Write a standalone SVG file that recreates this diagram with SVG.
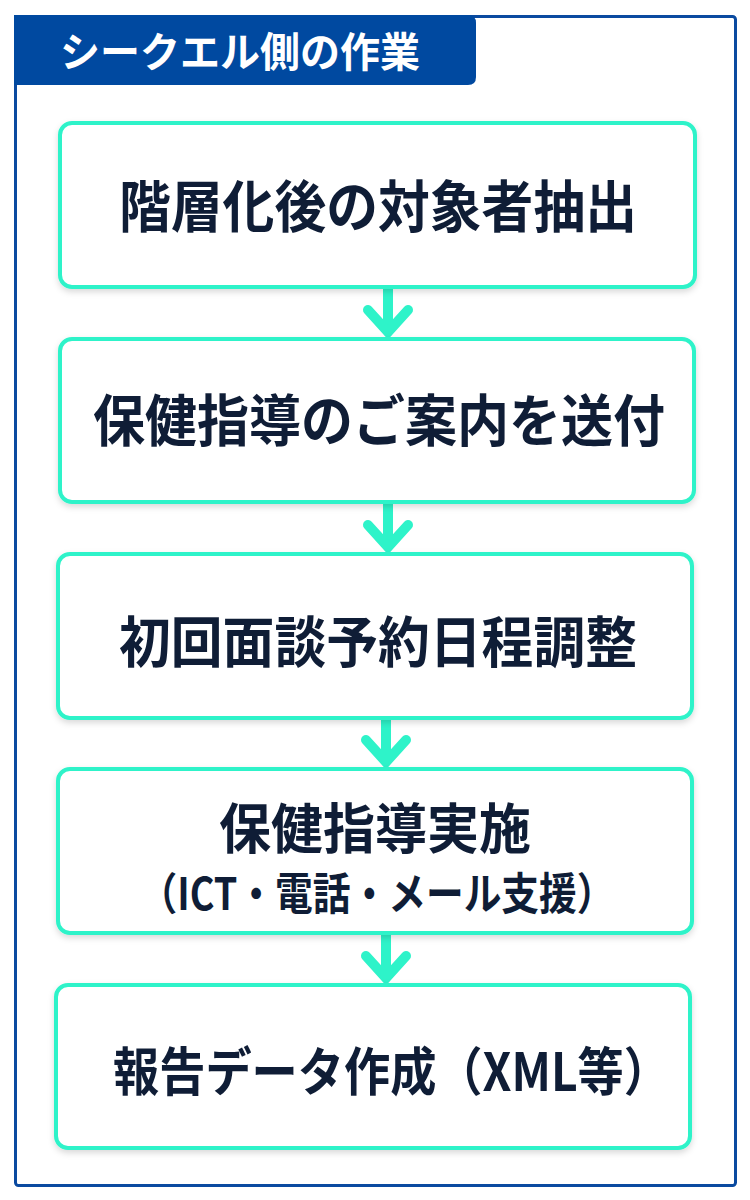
<svg xmlns="http://www.w3.org/2000/svg" width="750" height="1200" viewBox="0 0 750 1200">
<defs>
<style>
.box{fill:#ffffff;stroke:#2ef3c9;stroke-width:4;filter:url(#sh)}
.t{font-family:"Noto Sans CJK JP","Noto Sans CJK SC",sans-serif;font-weight:700;fill:#0f1d36}
.tab{font-family:"Noto Sans CJK JP","Noto Sans CJK SC",sans-serif;font-weight:700;fill:#ffffff}
.arr{fill:none;stroke:#2ef3c9;stroke-width:10;stroke-linecap:round}
</style>
<filter id="sh" x="-5%" y="-10%" width="110%" height="125%">
<feDropShadow dx="0" dy="3" stdDeviation="3" flood-color="#000" flood-opacity="0.15"/>
</filter>
</defs>
<rect x="0" y="0" width="750" height="1200" fill="#ffffff"/>
<g id="frame">
<rect x="15.5" y="16.5" width="720" height="1169" rx="3" fill="#ffffff" stroke="#0a4aa0" stroke-width="3"/>
<path d="M14 15 H468 Q476 15 476 23 V77 Q476 85 468 85 H14 Z" fill="#0049a0"/>
<text class="tab" x="60" y="67" font-size="41" textLength="360" lengthAdjust="spacingAndGlyphs">シークエル側の作業</text>
</g>
<g id="connectors">
<path class="arr" d="M388 289 V331"/><path class="arr" d="M368 310 L388 332 L408 310" stroke-linejoin="miter"/>
<path class="arr" d="M388 504 V546"/><path class="arr" d="M368 525 L388 547 L408 525" stroke-linejoin="miter"/>
<path class="arr" d="M386 720 V761"/><path class="arr" d="M366 740 L386 762 L406 740" stroke-linejoin="miter"/>
<path class="arr" d="M386 935 V977"/><path class="arr" d="M366 956 L386 978 L406 956" stroke-linejoin="miter"/>
</g>
<g id="node1">
<rect class="box" x="60" y="123" width="635" height="164" rx="12"/>
<text class="t" x="119" y="227" font-size="56" textLength="518" lengthAdjust="spacingAndGlyphs">階層化後の対象者抽出</text>
</g>
<g id="node2">
<rect class="box" x="60" y="339" width="634" height="163" rx="12"/>
<text class="t" x="93" y="441" font-size="56" textLength="572" lengthAdjust="spacingAndGlyphs">保健指導のご案内を送付</text>
</g>
<g id="node3">
<rect class="box" x="58" y="554" width="634" height="164" rx="12"/>
<text class="t" x="119" y="662" font-size="55" textLength="518" lengthAdjust="spacingAndGlyphs">初回面談予約日程調整</text>
</g>
<g id="node4">
<rect class="box" x="58" y="769" width="634" height="164" rx="12"/>
<text class="t" x="219" y="849" font-size="54" textLength="312" lengthAdjust="spacingAndGlyphs">保健指導実施</text>
<text class="t" x="377" y="910" font-size="44" text-anchor="middle" textLength="475" lengthAdjust="spacingAndGlyphs">（ICT・電話・メール支援）</text>
</g>
<g id="node5">
<rect class="box" x="56" y="985" width="634" height="163" rx="12"/>
<text class="t" x="113" y="1091" font-size="52" textLength="557" lengthAdjust="spacingAndGlyphs">報告データ作成（XML等）</text>
</g>
</svg>
